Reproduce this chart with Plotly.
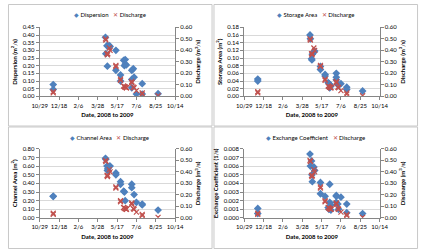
import plotly.graph_objects as go

# ---------------- data ----------------
dates = [
    "2008-12-03", "2008-12-03", "2009-04-17", "2009-04-18", "2009-04-21",
    "2009-04-22", "2009-04-23", "2009-04-27", "2009-04-29", "2009-05-14",
    "2009-05-14", "2009-05-26", "2009-05-26", "2009-06-03", "2009-06-05",
    "2009-06-07", "2009-06-07", "2009-06-10", "2009-06-10", "2009-06-24",
    "2009-06-24", "2009-06-24", "2009-06-28", "2009-06-30", "2009-07-06",
    "2009-07-21", "2009-07-21", "2009-08-31",
]
discharge = [
    0.03, 0.04, 0.50, 0.49, 0.37, 0.36, 0.37, 0.42, 0.40, 0.27,
    0.26, 0.15, 0.14, 0.09, 0.085, 0.08, 0.08, 0.075, 0.075, 0.13,
    0.12, 0.12, 0.08, 0.075, 0.05, 0.03, 0.02, 0.005,
]
dispersion = [
    0.077, 0.045, 0.385, 0.278, 0.330, 0.197, 0.330, 0.330, 0.325, 0.300,
    0.170, 0.140, 0.100, 0.235, 0.200, 0.240, 0.210, 0.205, None, 0.170,
    0.110, 0.056, 0.180, 0.125, 0.015, 0.083, 0.015, 0.017,
]
storage_area = [
    0.045, 0.040, 0.160, 0.150, 0.098, 0.095, 0.110, 0.115, 0.118, 0.078,
    0.070, 0.057, 0.053, 0.036, 0.033, 0.031, 0.022, 0.027, None, 0.060,
    0.050, 0.043, 0.032, 0.028, 0.033, 0.024, 0.018, 0.014,
]
channel_area = [
    0.25, 0.25, 0.69, 0.68, 0.60, 0.55, 0.57, 0.60, 0.60, 0.52,
    0.50, 0.42, 0.39, 0.31, 0.30, 0.20, None, None, None, 0.39,
    0.35, None, None, 0.27, 0.18, 0.16, 0.15, 0.09,
]
exchange_coef = [
    0.0011, 0.0005, 0.0074, 0.0060, 0.0066, 0.0050, 0.0042, 0.0059, 0.0055, 0.0041,
    0.0028, 0.0025, None, 0.0012, 0.0010, 0.0039, 0.0018, 0.0015, 0.0009, 0.0026,
    0.0025, 0.0018, 0.0016, 0.0010, 0.0024, 0.0016, 0.0006, 0.0005,
]
tick_dates = ["2008-10-29", "2008-12-18", "2009-02-06", "2009-03-28",
              "2009-05-17", "2009-07-06", "2009-08-25", "2009-10-14"]
tick_labels = ["10/29", "12/18", "2/6", "3/28", "5/17", "7/6", "8/25", "10/14"]

# ---------------- layout ----------------
W, H = 428, 252
FONT = "Lato"
BLUE = "#4F81BD"
RED = "#C0504D"
AXC = "#868686"
GRID = "#d9d9d9"

panels = [
    dict(name="Dispersion", vals=dispersion, title="Dispersion (m<sup>2</sup>/s)",
         rng=[0, 0.45], dtick=0.05, fmt=".2f", box=(33, 174, 24, 95), chart=(0, 0)),
    dict(name="Storage Area", vals=storage_area, title="Storage Area (m<sup>2</sup>)",
         rng=[0, 0.18], dtick=0.02, fmt=".2f", box=(246, 387, 24, 95), chart=(214, 0)),
    dict(name="Channel Area", vals=channel_area, title="Channel Area (m<sup>2</sup>)",
         rng=[0, 0.80], dtick=0.1, fmt=".2f", box=(33, 174, 149, 220), chart=(0, 126)),
    dict(name="Exchange Coefficient", vals=exchange_coef, title="Exchange Coefficient (1/s)",
         rng=[0, 0.008], dtick=0.001, fmt=".3f", box=(246, 387, 149, 220), chart=(214, 126)),
]

fig = go.Figure()
layout = dict(
    width=W, height=H, margin=dict(l=0, r=0, t=0, b=0),
    paper_bgcolor="white", plot_bgcolor="white", showlegend=False,
    font=dict(family=FONT, size=6, color="#000000"),
    annotations=[], shapes=[],
)

tickfont = dict(family=FONT, size=6, color="#000000")
titlefont = dict(family=FONT, size=6, color="#000000", weight="bold")

for i, p in enumerate(panels):
    n = i + 1
    xa = "x" if n == 1 else f"x{n}"
    yl_i, yr_i = 2 * n - 1, 2 * n
    yl = "y" if yl_i == 1 else f"y{yl_i}"
    yr = f"y{yr_i}"
    x0, x1, y0, y1 = p["box"]

    fig.add_trace(go.Scatter(
        x=dates, y=p["vals"], xaxis=xa, yaxis=yl, mode="markers", name=p["name"],
        marker=dict(symbol="diamond", size=6, color=BLUE),
    ))
    fig.add_trace(go.Scatter(
        x=dates, y=discharge, xaxis=xa, yaxis=yr, mode="markers", name="Discharge",
        marker=dict(symbol="x-thin", size=5, line=dict(width=1.2, color=RED)),
    ))

    xkey = "xaxis" if n == 1 else f"xaxis{n}"
    ylkey = "yaxis" if yl_i == 1 else f"yaxis{yl_i}"
    yrkey = f"yaxis{yr_i}"
    layout[xkey] = dict(
        domain=[x0 / W, x1 / W], anchor=yl, type="date",
        range=[tick_dates[0], tick_dates[-1]],
        tickmode="array", tickvals=tick_dates, ticktext=tick_labels,
        showgrid=False, showline=True, linecolor=AXC, linewidth=1,
        ticks="outside", ticklen=3, tickcolor=AXC, tickfont=tickfont,
        title=dict(text="Date, 2008 to 2009", font=titlefont, standoff=5),
        zeroline=False, fixedrange=True,
    )
    layout[ylkey] = dict(
        domain=[1 - y1 / H, 1 - y0 / H], anchor=xa, range=p["rng"],
        tickmode="linear", tick0=0, dtick=p["dtick"], tickformat=p["fmt"],
        showgrid=True, gridcolor=GRID, gridwidth=1,
        showline=True, linecolor=AXC, ticks="outside", ticklen=3, tickcolor=AXC,
        tickfont=tickfont, zeroline=False,
        title=dict(text=p["title"], font=titlefont, standoff=4),
    )
    layout[yrkey] = dict(
        overlaying=yl, side="right", anchor=xa, range=[0, 0.6],
        tickmode="linear", tick0=0, dtick=0.1, tickformat=".2f",
        showgrid=False, showline=True, linecolor=AXC, ticks="outside", ticklen=3,
        tickcolor=AXC, tickfont=tickfont, zeroline=False,
        title=dict(text="Discharge (m<sup>3</sup>/s)", font=titlefont, standoff=4),
    )

    cx, cy = p["chart"]
    # legend (as text with coloured glyphs)
    layout["annotations"].append(dict(
        xref="paper", yref="paper", x=(cx + 106) / W, y=1 - (cy + 11) / H,
        xanchor="center", yanchor="middle", showarrow=False,
        text=(f"<span style='color:{BLUE}'>◆</span>\u00a0{p['name']}\u00a0\u00a0\u00a0"
              f"<span style='color:{RED}'>✕</span>\u00a0Discharge"),
        font=dict(family=FONT, size=6, color="#000000"),
    ))
    # chart border
    layout["shapes"].append(dict(
        type="rect", xref="paper", yref="paper",
        x0=(cx + 0.5) / W, x1=(cx + 212.5) / W,
        y0=1 - (cy + 125.5) / H, y1=1 - (cy + 0.5) / H,
        line=dict(color="#c8c8c8", width=1), layer="below",
    ))

fig.update_layout(**layout)
fig.write_html("out.html")
